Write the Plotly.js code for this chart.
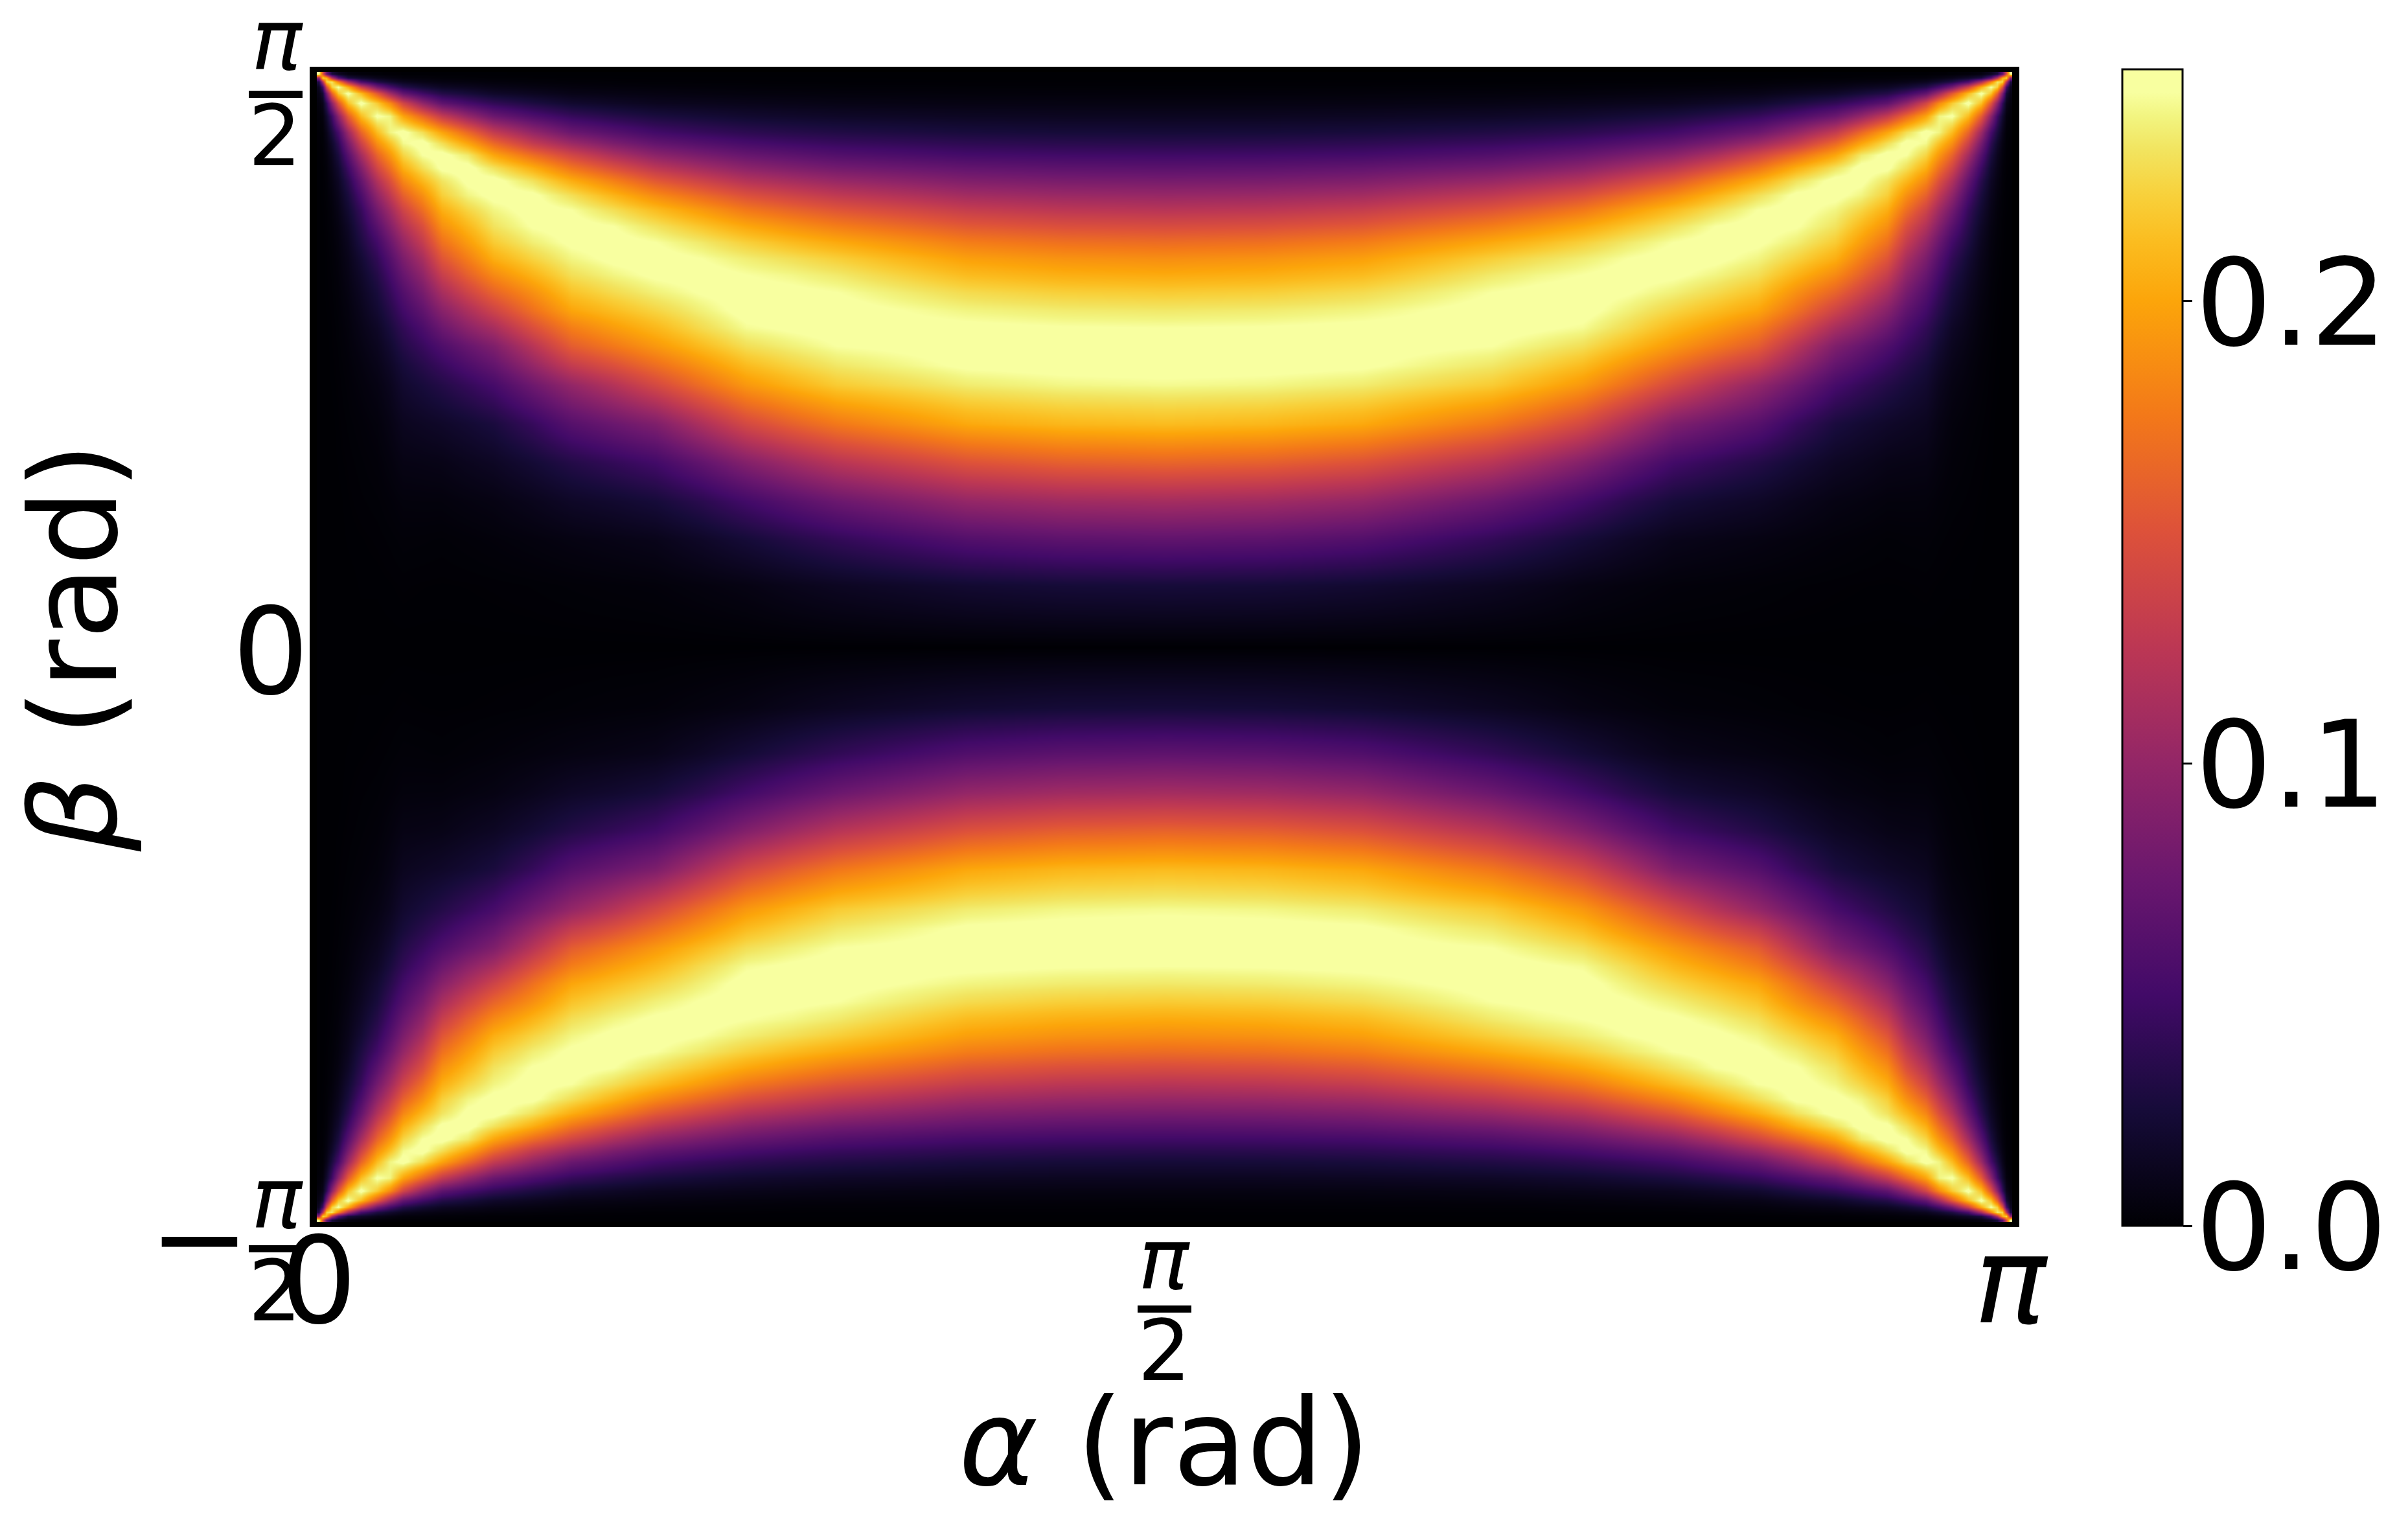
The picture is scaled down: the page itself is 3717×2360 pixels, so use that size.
<!DOCTYPE html>
<html>
<head>
<meta charset="utf-8">
<script src="https://cdn.plot.ly/plotly-3.0.1.min.js"></script>
<style>body { margin: 0; background: #fff; }</style>
</head>
<body>
<div id="plot"></div>
<script>
const HALF_PI = Math.PI / 2;

// upper left quarter of the map, mirrored further down
const alphaLeft = [0, 0.0072, 0.0144, 0.0241, 0.0361, 0.0541, 0.0782, 0.1083, 0.1324, 0.1564, 0.1925, 0.2286, 0.2767, 0.3249, 0.3971, 0.4693, 0.5475, 0.6257, 0.7099, 0.7941, 0.8784, 0.9626, 1.2032, 1.3837, 1.5708];
const betaUpper = [1.5708, 1.5601, 1.5495, 1.5353, 1.5175, 1.4909, 1.4554, 1.4110, 1.3808, 1.3488, 1.3133, 1.2778, 1.2387, 1.1979, 1.1535, 1.1091, 1.0647, 1.0203, 0.9723, 0.9226, 0.8746, 0.8249, 0.7716, 0.7184, 0.6118, 0.5052, 0.3987, 0.2921, 0.1678, 0];

// one array per alpha column, top edge down to beta = 0
const col00 = [.25, .1, .03, .0125, .0075, .0038, .0018, .001, .0007, .0005, .0004, .0003, .0001, 0, 0, 0, 0, 0, 0, 0, 0, 0, 0, 0, 0, 0, 0, 0, 0, 0];
const col01 = [.15, .225, .12, .05, .0225, .01, .0045, .0018, .0014, .001, .0007, .0005, .0004, .0003, .0001, 0, 0, 0, 0, 0, 0, 0, 0, 0, 0, 0, 0, 0, 0, 0];
const col02 = [.07, .2075, .225, .15, .085, .04, .02, .01, .0065, .0045, .003, .0023, .0017, .0013, .001, .0008, .0006, .0005, .0004, .0003, .0001, 0, 0, 0, 0, 0, 0, 0, 0, 0];
const col03 = [.025, .1225, .235, .2225, .16, .095, .0475, .0275, .018, .0125, .0095, .007, .005, .0035, .0027, .002, .0016, .0013, .001, .0008, .0006, .0005, .0004, .0003, 0, 0, 0, 0, 0, 0];
const col04 = [.0125, .0625, .1825, .2475, .2175, .1525, .095, .0525, .038, .0275, .02, .015, .0115, .0088, .0065, .005, .004, .0033, .0025, .002, .0016, .0013, .001, .0008, .0005, .0003, 0, 0, 0, 0];
const col05 = [.005, .0275, .1125, .205, .25, .215, .1575, .105, .082, .0625, .047, .035, .027, .0213, .016, .0125, .01, .0083, .0065, .005, .004, .0033, .0025, .002, .0013, .0008, .0005, .0003, 0, 0];
const col06 = [.0025, .0175, .055, .1375, .2125, .25, .2125, .1625, .136, .11, .088, .07, .055, .0425, .035, .0288, .022, .0175, .014, .0113, .009, .007, .0052, .004, .0023, .0015, .001, .0005, .0003, 0];
const col07 = [.0013, .01, .03, .08, .155, .22, .2475, .2125, .188, .1625, .14, .1175, .098, .08, .064, .05, .04, .0325, .026, .0213, .016, .0125, .0095, .007, .004, .0025, .0015, .0008, .0003, 0];
const col08 = [.0009, .0065, .02, .052, .108, .185, .24, .24, .215, .192, .17, .148, .127, .107, .09, .074, .061, .051, .042, .034, .027, .021, .016, .012, .0075, .0046, .0025, .0013, .0005, 0];
const col09 = [.0005, .0038, .0125, .0325, .07, .14, .2, .25, .242, .225, .205, .1825, .16, .1375, .118, .1, .085, .0725, .06, .05, .04, .0325, .025, .02, .0125, .0075, .0038, .002, .0008, 0];
const col10 = [.0004, .003, .0085, .022, .048, .098, .165, .23, .25, .245, .23, .21, .188, .168, .147, .13, .112, .097, .082, .068, .055, .044, .034, .026, .015, .008, .004, .0018, .0006, 0];
const col11 = [.0003, .002, .0063, .015, .0325, .0675, .13, .2, .23, .25, .248, .2325, .222, .205, .188, .17, .152, .1325, .112, .0925, .075, .0575, .044, .0325, .0175, .0088, .004, .0015, .0005, 0];
const col12 = [.0003, .0015, .005, .012, .025, .052, .1, .165, .2, .235, .25, .248, .24, .225, .21, .195, .178, .16, .138, .115, .095, .073, .057, .042, .022, .012, .0055, .0022, .0006, 0];
const col13 = [.0003, .001, .0038, .0088, .0175, .04, .075, .13, .165, .2, .232, .25, .249, .24, .232, .22, .205, .185, .162, .1375, .112, .0875, .07, .0525, .0275, .015, .0068, .003, .0008, 0];
const col14 = [.0001, .0008, .0028, .0065, .013, .029, .057, .1, .13, .168, .205, .232, .248, .25, .246, .237, .224, .208, .188, .17, .147, .122, .1, .077, .043, .023, .011, .0045, .0012, 0];
const col15 = [0, .0005, .0018, .0045, .0088, .02, .0425, .075, .105, .14, .173, .205, .23, .245, .25, .2475, .24, .23, .216, .2, .178, .1575, .13, .1, .0625, .0325, .0163, .0063, .0018, 0];
const col16 = [0, .0004, .0014, .0037, .0075, .016, .034, .062, .085, .115, .148, .18, .208, .23, .245, .25, .248, .24, .228, .213, .195, .175, .148, .12, .075, .041, .02, .008, .0024, 0];
const col17 = [0, .0003, .001, .003, .0063, .0125, .0275, .05, .07, .095, .125, .155, .185, .2125, .232, .245, .25, .2475, .238, .225, .21, .1925, .168, .1425, .0875, .05, .025, .01, .003, 0];
const col18 = [0, .0003, .0009, .0026, .0053, .0112, .0236, .043, .061, .083, .109, .137, .166, .194, .217, .235, .245, .25, .246, .238, .228, .212, .19, .168, .115, .069, .036, .016, .0048, 0];
const col19 = [0, .0003, .0008, .0023, .0045, .01, .02, .0375, .053, .0725, .095, .12, .148, .175, .201, .2225, .237, .245, .25, .25, .243, .23, .212, .1925, .1425, .09, .05, .0238, .007, 0];
const col20 = [0, .0003, .0006, .002, .0041, .009, .0182, .034, .048, .066, .087, .111, .137, .163, .189, .212, .23, .241, .248, .25, .247, .238, .224, .207, .16, .107, .063, .032, .0105, 0];
const col21 = [0, .0003, .0005, .0018, .0038, .008, .0165, .0313, .044, .06, .08, .1025, .127, .1525, .178, .2025, .222, .235, .245, .25, .25, .245, .234, .22, .175, .1225, .075, .04, .0138, 0];
const col22 = [0, 0, .0005, .0015, .0033, .0068, .0142, .0265, .038, .0515, .07, .088, .109, .132, .155, .178, .197, .212, .228, .24, .248, .25, .247, .236, .202, .15, .1, .059, .021, 0];
const col23 = [0, 0, .0005, .0014, .0031, .0066, .0133, .025, .0358, .0493, .0663, .0839, .1038, .1249, .1476, .1702, .1896, .205, .222, .236, .2458, .25, .2492, .2408, .2098, .1593, .1074, .0653, .024, 0];
const col24 = [0, 0, .0005, .0013, .003, .0065, .013, .0245, .035, .0485, .065, .0825, .102, .1225, .145, .1675, .187, .2025, .22, .2345, .245, .25, .25, .2425, .2125, .1625, .11, .0675, .025, 0];
const columns = [col00, col01, col02, col03, col04, col05, col06, col07, col08, col09, col10, col11, col12, col13, col14, col15, col16, col17, col18, col19, col20, col21, col22, col23, col24];

const xTicks = [0, HALF_PI, Math.PI];
const xTickText = ['0', '', '<i>π</i>'];
const yTicks = [-HALF_PI, 0, HALF_PI];
const yTickText = ['', '0', ''];
const barTicks = [0, 0.1, 0.2];

const inferno = [
  [0, '#000004'], [0.1, '#160b39'], [0.2, '#420a68'], [0.3, '#6a176e'], [0.4, '#932667'], [0.5, '#bc3754'],
  [0.6, '#dd513a'], [0.7, '#f37819'], [0.8, '#fca50a'], [0.85, '#fbbc1f'], [0.89, '#f8d03a'], [0.93, '#f2e45f'],
  [0.96, '#f2f581'], [0.98, '#f8ffa0'], [1, '#f8ffa0']
];

// the map is symmetric both ways, build the whole grid from the quarter
const alpha = alphaLeft.concat(alphaLeft.slice(0, -1).reverse().map(a => Math.PI - a));
const beta = betaUpper.map(b => -b).concat(betaUpper.slice(0, -1).reverse());
const wholeColumns = columns.concat(columns.slice(0, -1).reverse());
const z = wholeColumns.map(c => c.concat(c.slice(0, -1).reverse()));

const plotL = 478, plotR = 3117, plotT = 103, plotB = 1894;
const px = x => (x - plotL) / (plotR - plotL);
const py = y => (plotB - y) / (plotB - plotT);
const font = 'DejaVu Sans';

const textAt = (text, x, y, size) => ({
  text: text, xref: 'paper', yref: 'paper', x: px(x), y: py(y),
  xanchor: 'center', yanchor: 'middle', showarrow: false,
  font: {family: font, size: size, color: '#000'}
});
const fractionBar = (x0, x1, y0, y1) => ({
  type: 'rect', xref: 'paper', yref: 'paper', x0: px(x0), x1: px(x1), y0: py(y0), y1: py(y1),
  fillcolor: '#000', line: {width: 0}
});

const trace = {
  type: 'heatmap', x: alpha, y: beta, z: z, transpose: true,
  zmin: 0, zmax: 0.25, zsmooth: 'best', colorscale: inferno, hoverinfo: 'skip',
  colorbar: {
    thickness: 93, thicknessmode: 'pixels', len: 1785, lenmode: 'pixels',
    xref: 'container', yref: 'paper',
    x: 3276 / 3717, xanchor: 'left', y: py(1892), yanchor: 'bottom', xpad: 0, ypad: 0,
    outlinewidth: 3, outlinecolor: '#000',
    tickmode: 'array', tickvals: barTicks, showticklabels: false,
    ticks: 'outside', ticklen: 14, tickwidth: 3, tickcolor: '#000'
  }
};

// labels sit closer to the colorbar than plotly allows, so they are annotations
const topPi = Object.assign(textAt('<i>π</i>', 428, 62, 130), {height: 120});

const layout = {
  width: 3717, height: 2360, autosize: false,
  margin: {l: plotL, r: 3717 - plotR, t: plotT, b: 2360 - plotB},
  paper_bgcolor: '#fff', plot_bgcolor: '#000',
  xaxis: {
    range: [-0.0168, Math.PI + 0.0168], tickmode: 'array', tickvals: xTicks, ticktext: xTickText,
    ticks: '', showgrid: false, zeroline: false, tickfont: {family: font, size: 186, color: '#000'},
    ticklabelstandoff: -40,
    title: {text: '<i>α</i> (rad)', standoff: 76, font: {family: font, size: 186, color: '#000'}}
  },
  yaxis: {
    range: [-HALF_PI - 0.0195, HALF_PI + 0.0195], tickmode: 'array', tickvals: yTicks, ticktext: yTickText,
    ticks: '', showgrid: false, zeroline: false, tickfont: {family: font, size: 186, color: '#000'},
    ticklabelshift: 6,
    title: {text: '<i>β</i> (rad)', standoff: 115, font: {family: font, size: 186, color: '#000'}}
  },
  annotations: [
    topPi, textAt('2', 424, 210, 130),
    textAt('<i>π</i>', 1797, 1944, 130), textAt('2', 1797, 2085, 130),
    textAt('<i>π</i>', 428, 1850, 130), textAt('2', 424, 1993, 130),
    textAt('−', 308, 1910, 186),
    textAt('0.2', 3537, 468, 186), textAt('0.1', 3537, 1181, 186), textAt('0.0', 3537, 1894, 186)
  ],
  shapes: [
    fractionBar(384, 467, 140, 151),
    fractionBar(1756, 1839, 2015, 2026),
    fractionBar(384, 467, 1922, 1933)
  ]
};

Plotly.newPlot('plot', [trace], layout, {displayModeBar: false});
</script>
</body>
</html>
